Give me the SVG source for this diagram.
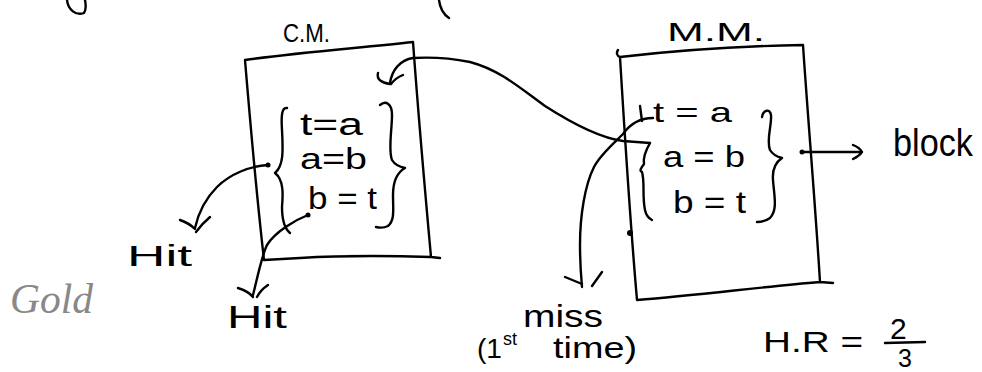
<svg xmlns="http://www.w3.org/2000/svg" width="982" height="372" viewBox="0 0 982 372">
<style>
.ln{fill:none;stroke:#000;stroke-width:2.4;stroke-linecap:round;stroke-linejoin:round}
.tx{font-family:"Liberation Sans","DejaVu Sans",sans-serif;fill:#000}
.dot{fill:#000}
</style>
<rect width="982" height="372" fill="#fff"/>
<g id="fragments">
<path class="ln" d="M67 0 C68 10 76 16 84 13 C86 10 86 5 85 0"/>
<path class="ln" d="M439 0 C440 8 443 14 449 18"/>
</g>
<g id="node-cm">
<text class="tx" x="283" y="42" font-size="25" textLength="47" lengthAdjust="spacingAndGlyphs">C.M.</text>
<path class="ln" d="M245 60 C300 52 360 48 413 42 C418 110 424 180 431 257 L440 258 M431 257 C400 256 350 255 300 258 L264 260 C256 190 250 120 245 60"/>
<path class="ln" d="M287 108 C282 107 281 115 282 130 C283 150 284 165 275 173 C284 180 283 195 282 207 C282 220 284 228 290 233"/>
<path class="ln" d="M380 105 C386 100 392 104 392 115 C392 130 388 150 392 160 C395 165 400 167 405 168 C398 172 393 180 393 195 C393 210 395 220 388 226 C384 228 380 228 376 227"/>
<text class="tx" x="300" y="135" font-size="31" textLength="63" lengthAdjust="spacingAndGlyphs">t=a</text>
<text class="tx" x="300" y="169" font-size="29" textLength="67" lengthAdjust="spacingAndGlyphs">a=b</text>
<text class="tx" x="308" y="209" font-size="31" textLength="69" lengthAdjust="spacingAndGlyphs">b = t</text>
</g>
<g id="node-mm">
<text class="tx" x="667" y="41" font-size="26" textLength="98" lengthAdjust="spacingAndGlyphs">M.M.</text>
<path class="ln" d="M618 50 C616 53 617 56 620 57 C680 50 740 46 803 45 C808 120 815 200 820 282 L833 283 M820 282 C760 287 700 295 637 300 C630 220 625 140 620 57"/>
<circle class="dot" cx="630" cy="233" r="3"/>
<path class="ln" d="M650 143 C646 150 643 158 644 164 C641 168 639 171 642 172 C645 182 642 196 645 210 C646 215 648 218 652 220"/>
<path class="ln" d="M762 117 C763 110 770 108 771 115 C772 125 766 140 770 150 C773 155 778 157 782 158 C776 162 772 168 773 180 C774 195 778 210 770 218 C766 221 760 222 757 222"/>
<path class="ln" d="M640 106 L642 121"/>
<text class="tx" x="653" y="122" font-size="28" textLength="79" lengthAdjust="spacingAndGlyphs">t = a</text>
<text class="tx" x="663" y="167" font-size="30" textLength="82" lengthAdjust="spacingAndGlyphs">a = b</text>
<text class="tx" x="673" y="213" font-size="31" textLength="73" lengthAdjust="spacingAndGlyphs">b = t</text>
</g>
<g id="connectors">
<path class="ln" d="M650 143 L623 141 C600 138 570 122 545 106 C520 88 500 70 470 62 C450 58 430 57 413 58 C400 60 392 70 390 83"/>
<path class="ln" d="M378 73 C376 80 383 83 390 84 M403 75 C398 77 394 80 391 84"/>
<path class="ln" d="M653 118 C640 118 630 124 623 134 C612 145 600 155 594 167 C585 185 580 215 580 245 C580 265 581 275 582 287"/>
<path class="ln" d="M565 277 L582 284 M602 272 L592 286"/>
<path class="ln" d="M268 165 C250 166 230 174 217 187 C207 197 199 210 195 228"/>
<circle class="dot" cx="268" cy="165" r="2.5"/>
<path class="ln" d="M180 220 C186 222 191 225 195 229 M210 217 C204 222 199 228 196 232"/>
<path class="ln" d="M308 215 C295 220 275 232 267 245 C262 255 258 275 253 295"/>
<circle class="dot" cx="308" cy="215" r="2.5"/>
<path class="ln" d="M238 288 C244 290 250 293 253 297 M268 285 C262 289 259 293 257 297"/>
<path class="ln" d="M802 152 L862 152 M853 145 C858 147 861 150 862 152 C860 155 857 157 853 159"/>
<circle class="dot" cx="802" cy="152" r="2.5"/>
</g>
<g id="labels">
<text class="tx" x="893" y="156" font-size="38" textLength="80" lengthAdjust="spacingAndGlyphs">block</text>
<text class="tx" x="127" y="266" font-size="30" textLength="65" lengthAdjust="spacingAndGlyphs">Hit</text>
<text class="tx" x="227" y="328" font-size="32" textLength="60" lengthAdjust="spacingAndGlyphs">Hit</text>
<text x="10" y="313" font-family="'Liberation Serif',serif" font-style="italic" font-size="42" fill="#888" textLength="83" lengthAdjust="spacingAndGlyphs">Gold</text>
<text class="tx" x="523" y="327" font-size="32" textLength="80" lengthAdjust="spacingAndGlyphs">miss</text>
<text class="tx" x="477" y="358" font-size="28" textLength="25" lengthAdjust="spacingAndGlyphs">(1</text>
<text class="tx" x="503" y="345" font-size="18">st</text>
<text class="tx" x="553" y="358" font-size="30" textLength="84" lengthAdjust="spacingAndGlyphs">time)</text>
<text class="tx" x="763" y="352" font-size="30" textLength="100" lengthAdjust="spacingAndGlyphs">H.R =</text>
<text class="tx" x="890" y="339" font-size="30">2</text>
<path class="ln" d="M885 343 L925 342"/>
<text class="tx" x="898" y="367" font-size="25">3</text>
</g>
</svg>
